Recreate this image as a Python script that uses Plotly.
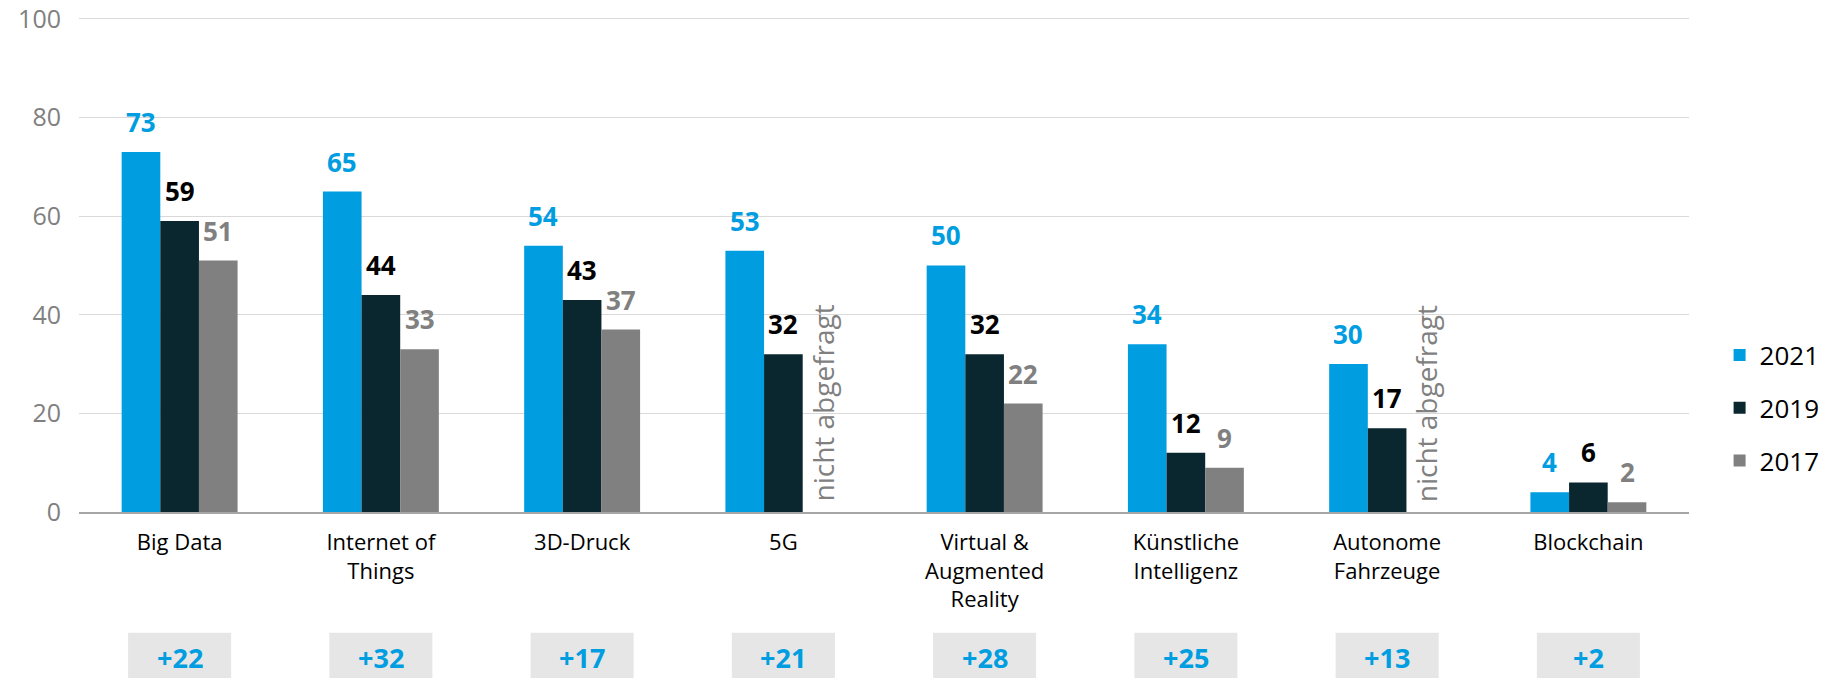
import plotly.graph_objects as go

FONT = "Open Sans"
BLUE = "#009de0"
DARK = "#0a2730"
GREY = "#808080"

categories = ["Big Data", "Internet of<br>Things", "3D-Druck", "5G",
              "Virtual &<br>Augmented<br>Reality", "Künstliche<br>Intelligenz",
              "Autonome<br>Fahrzeuge", "Blockchain"]
v2021 = [73, 65, 54, 53, 50, 34, 30, 4]
v2019 = [59, 44, 43, 32, 32, 12, 17, 6]
v2017 = [51, 33, 37, None, 22, 9, None, 2]
diffs = ["+22", "+32", "+17", "+21", "+28", "+25", "+13", "+2"]
missing_note = "nicht abgefragt"

series = [("2021", v2021, BLUE, BLUE), ("2019", v2019, DARK, "#000000"), ("2017", v2017, GREY, GREY)]

BARGAP = 0.424
bar_w = (1 - BARGAP) / 3
offsets = [-bar_w, 0, bar_w]

fig = go.Figure()
for name, vals, col, _ in series:
    fig.add_trace(go.Bar(
        x=categories, y=vals, name=name, marker_color=col,
        marker_line_width=0, legendgroup=name,
    ))

# value labels above bars
for (name, vals, col, lab_col), off in zip(series, offsets):
    for i, v in enumerate(vals):
        if v is None:
            fig.add_annotation(
                x=i + off, y=0, xref="x", yref="y", text=missing_note,
                textangle=-90, showarrow=False, yanchor="bottom", yshift=8,
                font=dict(family=FONT, size=28, color=GREY),
            )
            continue
        fig.add_annotation(
            x=i + off, y=v, xref="x", yref="y", text=f"<b>{v}</b>",
            showarrow=False, yanchor="bottom", yshift=10,
            font=dict(family=FONT, size=26, color=lab_col),
        )

# change boxes below the categories
for i, d in enumerate(diffs):
    fig.add_shape(type="rect", xref="x", yref="paper",
                  x0=i - 0.256, x1=i + 0.256, y0=-0.244, y1=-0.40,
                  fillcolor="#e6e6e6", line_width=0, layer="below")
    fig.add_annotation(x=i, y=-0.293, xref="x", yref="paper", text=f"<b>{d}</b>",
                       showarrow=False, yanchor="middle",
                       font=dict(family=FONT, size=27, color=BLUE))

fig.update_layout(
    width=1837, height=678,
    barmode="group", bargap=BARGAP, bargroupgap=0,
    paper_bgcolor="white", plot_bgcolor="white",
    font=dict(family=FONT, color="#000000"),
    margin=dict(l=79, r=137, t=17, b=166),
    xaxis=dict(showgrid=False, showline=True, linecolor="#a6a6a6", linewidth=1.5,
               tickfont=dict(size=22, color="#000000"), ticks="", ticklabelstandoff=10,
               automargin=False),
    yaxis=dict(range=[0, 100.4], tickvals=[0, 20, 40, 60, 80, 100], showgrid=True,
               gridcolor="#d9d9d9", gridwidth=1, zeroline=False,
               tickfont=dict(size=25, color=GREY), ticklabelstandoff=17,
               automargin=False),
    legend=dict(x=1.019, y=0.21, xanchor="left", yanchor="middle",
                font=dict(size=26, color="#000000"), tracegroupgap=16,
                bgcolor="rgba(0,0,0,0)"),
    showlegend=True,
)

# drop the default page margin so the figure fills the window exactly
fig.write_html("out.html", config={"displayModeBar": False, "responsive": False},
               post_script="document.body.style.margin = '0';")
